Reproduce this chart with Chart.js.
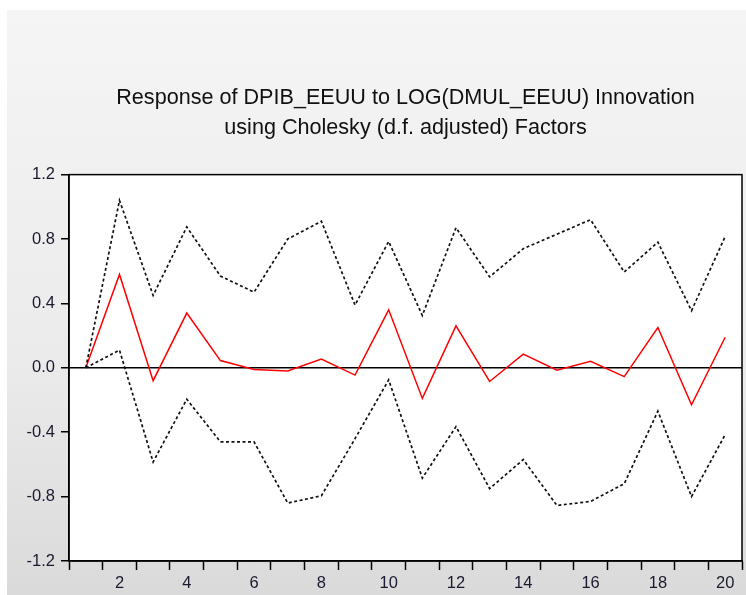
<!DOCTYPE html>
<html>
<head>
<meta charset="utf-8">
<script src="https://cdn.jsdelivr.net/npm/chart.js@4.4.1/dist/chart.umd.min.js"></script>
<style>
  html, body { margin: 0; padding: 0; background: #ffffff; }
  #panel {
    position: absolute; left: 7px; top: 10px; width: 739px; height: 585px;
    background: linear-gradient(to bottom, #f5f5f5 0%, #ebebeb 60%, #dadada 100%);
  }
  #wrap { position: absolute; left: 0; top: 0; width: 746px; height: 595px; }
</style>
</head>
<body>
<div id="panel"></div>
<div id="wrap"><canvas id="c" width="746" height="595"></canvas></div>
<script>
// Impulse response periods
const periods = ['1','2','3','4','5','6','7','8','9','10','11','12','13','14','15','16','17','18','19','20'];

// Response of DPIB_EEUU to a LOG(DMUL_EEUU) shock
const response = [0.00, 0.58, -0.08, 0.34, 0.045, -0.01, -0.02, 0.055, -0.045, 0.36,
                  -0.19, 0.26, -0.085, 0.085, -0.015, 0.04, -0.055, 0.25, -0.23, 0.19];

// ±2 S.E. bands
const upperBand = [0.00, 1.04, 0.45, 0.875, 0.57, 0.47, 0.80, 0.91, 0.39, 0.785,
                   0.325, 0.87, 0.565, 0.74, 0.83, 0.92, 0.595, 0.78, 0.355, 0.815];
const lowerBand = [0.00, 0.11, -0.585, -0.195, -0.46, -0.46, -0.84, -0.795, -0.44, -0.075,
                   -0.685, -0.365, -0.75, -0.57, -0.855, -0.83, -0.72, -0.27, -0.80, -0.415];

const yTicks = [-1.2, -0.8, -0.4, 0.0, 0.4, 0.8, 1.2];

const labelColor = '#1a1a30';
const fontFamily = '"Liberation Sans", Arial, sans-serif';

// White plot area and a closed black frame around it
const framePlugin = {
  id: 'frame',
  beforeDraw(chart) {
    const a = chart.chartArea, ctx = chart.ctx;
    ctx.save();
    ctx.fillStyle = '#ffffff';
    ctx.fillRect(a.left, a.top, a.right - a.left, a.bottom - a.top);
    ctx.restore();
  },
  afterDraw(chart) {
    const a = chart.chartArea, ctx = chart.ctx;
    ctx.save();
    ctx.strokeStyle = '#000000';
    ctx.lineWidth = 1.5;
    ctx.strokeRect(a.left, a.top, a.right - a.left, a.bottom - a.top);
    ctx.restore();
  }
};

new Chart(document.getElementById('c'), {
  type: 'line',
  data: {
    labels: periods,
    datasets: [
      { data: upperBand, borderColor: '#111111', borderWidth: 1.7, borderDash: [3, 2.5],
        pointRadius: 0, tension: 0, fill: false },
      { data: lowerBand, borderColor: '#111111', borderWidth: 1.7, borderDash: [3, 2.5],
        pointRadius: 0, tension: 0, fill: false },
      { data: response, borderColor: '#ff0000', borderWidth: 1.5,
        pointRadius: 0, tension: 0, fill: false }
    ]
  },
  options: {
    responsive: false,
    animation: false,
    layout: { padding: { left: 0, right: 4, top: 0, bottom: 0 } },
    plugins: {
      legend: { display: false },
      tooltip: { enabled: false },
      title: {
        display: true,
        fullSize: false,
        text: ['Response of DPIB_EEUU to LOG(DMUL_EEUU) Innovation',
               'using Cholesky (d.f. adjusted) Factors'],
        color: '#111111',
        font: { family: fontFamily, size: 21.6, weight: 'normal', lineHeight: 1.38 },
        padding: { top: 83, bottom: 32 }
      }
    },
    scales: {
      x: {
        type: 'category',
        offset: true,
        grid: {
          offset: true, drawOnChartArea: false, drawTicks: true,
          tickLength: 9, tickColor: '#000000', tickWidth: 1.5
        },
        border: { display: true, color: '#000000', width: 1.5 },
        ticks: {
          autoSkip: false, maxRotation: 0, padding: 4,
          color: labelColor, font: { family: fontFamily, size: 16.5 },
          callback: function (value, index) {
            const lab = periods[index];
            return Number(lab) % 2 === 0 ? lab : '';
          }
        },
        afterFit(scale) { scale.height = 34; }
      },
      y: {
        min: -1.2, max: 1.2,
        afterBuildTicks(scale) { scale.ticks = yTicks.map(v => ({ value: v })); },
        grid: {
          drawOnChartArea: true, drawTicks: true,
          tickLength: 8, tickColor: '#000000', tickWidth: 1.5,
          lineWidth: 1.5,
          color: ctx => (ctx.tick && Math.abs(ctx.tick.value) < 1e-9 ? '#000000' : 'rgba(0,0,0,0)')
        },
        border: { display: true, color: '#000000', width: 1.5 },
        ticks: {
          padding: 6,
          color: labelColor, font: { family: fontFamily, size: 16.5 },
          callback: v => Number(v).toFixed(1)
        },
        afterFit(scale) { scale.width = 69; }
      }
    }
  },
  plugins: [framePlugin]
});
</script>
</body>
</html>
